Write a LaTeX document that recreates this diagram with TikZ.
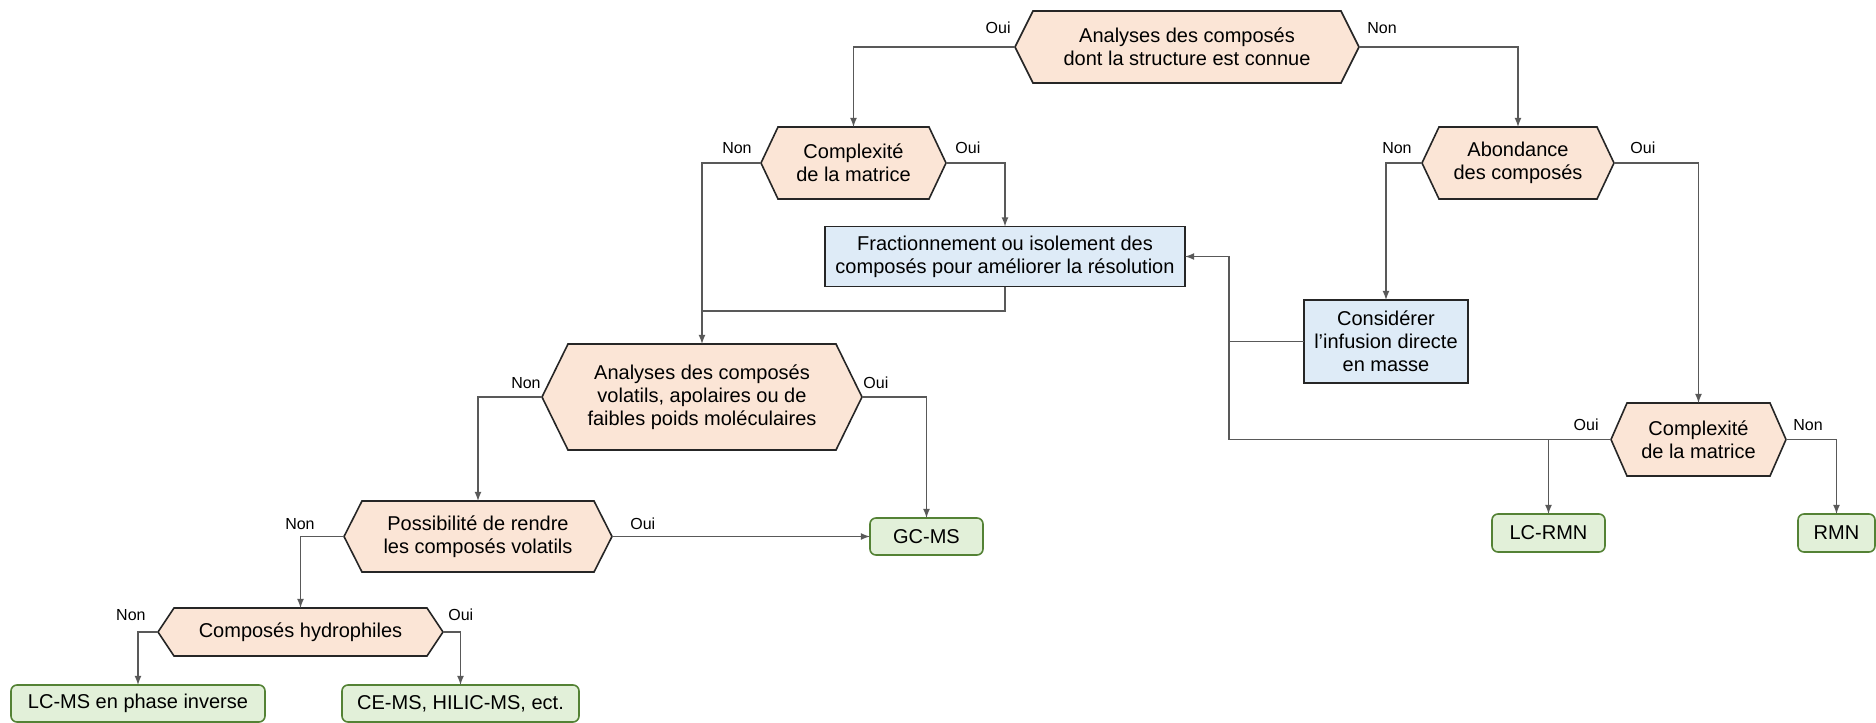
\documentclass[tikz,border=0pt]{standalone}
\usepackage{fontspec}
\setmainfont{Liberation Sans}
\usetikzlibrary{backgrounds}

\definecolor{peche}{HTML}{FBE5D6}
\definecolor{bleuclair}{HTML}{DEEBF7}
\definecolor{vertclair}{HTML}{E2F0D9}
\definecolor{vertfonce}{HTML}{548235}
\definecolor{trait}{HTML}{595959}
\definecolor{bord}{HTML}{262626}

\tikzset{
  choix/.style={draw=none, inner sep=0pt, outer sep=0pt, align=center,
    font=\fontsize{10pt}{11.6pt}\selectfont},
  etape/.style={draw=bord, fill=bleuclair, line width=0.8pt, inner sep=0pt,
    outer sep=0pt, align=center, font=\fontsize{10pt}{11.6pt}\selectfont},
  methode/.style={draw=vertfonce, fill=vertclair, line width=0.8pt,
    rounded corners=3pt, inner sep=0pt, outer sep=0pt, align=center,
    font=\fontsize{10pt}{11.6pt}\selectfont},
  hexa/.style={fill=peche, draw=bord, line width=0.8pt, line join=miter},
  lien/.style={draw=trait, line width=0.6pt, -latex},
  ligne/.style={draw=trait, line width=0.6pt},
  rep/.style={inner sep=0pt, font=\fontsize{8pt}{9pt}\selectfont}
}

\begin{document}
\begin{tikzpicture}[x=0.5pt, y=-0.5pt]
  \useasboundingbox (0,0) rectangle (1876,723);

  % questions
  \node[choix, minimum width=172pt, minimum height=36pt] (ana) at (1187,47) {Analyses des composés\\dont la structure est connue};
  \node[choix, minimum width=92.5pt, minimum height=36pt] (cpx) at (853.5,163) {Complexité\\de la matrice};
  \node[choix, minimum width=96pt, minimum height=36pt] (abond) at (1518,163) {Abondance\\des composés};
  \node[choix, minimum width=87.5pt, minimum height=36.5pt] (cpxb) at (1698.5,439.5) {Complexité\\de la matrice};
  \node[choix, minimum width=160pt, minimum height=53pt] (vola) at (702,397) {Analyses des composés\\volatils, apolaires ou de\\faibles poids moléculaires};
  \node[choix, minimum width=134pt, minimum height=35.5pt] (poss) at (478,536.5) {Possibilité de rendre\\les composés volatils};
  \node[choix, minimum width=142.5pt, minimum height=24pt] (hydro) at (300.5,632) {Composés hydrophiles};

  % etapes
  \node[etape, minimum width=180pt, minimum height=30pt] (frac) at (1005,256.5) {Fractionnement ou isolement des\\composés pour améliorer la résolution};
  \node[etape, minimum width=82pt, minimum height=41.5pt] (infus) at (1386,341.5) {Considérer\\l’infusion directe\\en masse};

  % methodes
  \node[methode, minimum width=56.5pt, minimum height=18.5pt] (gcms) at (926.5,536.5) {GC-MS};
  \node[methode, minimum width=56.5pt, minimum height=19pt] (lcrmn) at (1548.5,533) {LC-RMN};
  \node[methode, minimum width=38.5pt, minimum height=19pt] (rmn) at (1836.5,533) {RMN};
  \node[methode, minimum width=127pt, minimum height=18.5pt] (lcms) at (138,703.5) {LC-MS en phase inverse};
  \node[methode, minimum width=118.5pt, minimum height=18.5pt] (cems) at (460.5,703.5) {CE-MS, HILIC-MS, ect.};

  % hexagones
  \begin{scope}[on background layer]
    \foreach \n/\d in {ana/9, cpx/8.5, abond/8.5, cpxb/8, vola/13, poss/9, hydro/8}
      \filldraw[hexa] (\n.west) -- ([xshift=\d pt]\n.north west) -- ([xshift=-\d pt]\n.north east)
        -- (\n.east) -- ([xshift=-\d pt]\n.south east) -- ([xshift=\d pt]\n.south west) -- cycle;
  \end{scope}

  % liens
  \coordinate (merge) at (702,311);
  \coordinate (bus) at (1229,439.5);
  \draw[lien] (ana.west) -| (cpx.north);
  \draw[lien] (ana.east) -| (abond.north);
  \draw[lien] (cpx.west) -| (vola.north);
  \draw[lien] (cpx.east) -| (frac.north);
  \draw[ligne] (frac.south) |- (merge);
  \draw[lien] (abond.west) -| (infus.north);
  \draw[lien] (abond.east) -| (cpxb.north);
  \draw[lien] (cpxb.west) -- (bus) |- (frac.east);
  \draw[ligne] (infus.west) -- (infus.west -| bus);
  \draw[lien] (cpxb.west) -| (lcrmn.north);
  \draw[lien] (cpxb.east) -| (rmn.north);
  \draw[lien] (vola.west) -| (poss.north);
  \draw[lien] (vola.east) -| (gcms.north);
  \draw[lien] (poss.east) -- (gcms.west);
  \draw[lien] (poss.west) -| (hydro.north);
  \draw[lien] (hydro.west) -| (lcms.north);
  \draw[lien] (hydro.east) -| (cems.north);

  % reponses
  \node[rep, anchor=base east] (ana-oui) at ([xshift=-2pt, yshift=7pt]ana.west) {Oui};
  \node[rep, anchor=base west] (ana-non) at ([xshift=4pt, yshift=7pt]ana.east) {Non};
  \node[rep, anchor=base east] (cpx-non) at ([xshift=-4.5pt, yshift=5pt]cpx.west) {Non};
  \node[rep, anchor=base west] (cpx-oui) at ([xshift=4.5pt, yshift=5pt]cpx.east) {Oui};
  \node[rep, anchor=base east] (abond-non) at ([xshift=-5pt, yshift=5pt]abond.west) {Non};
  \node[rep, anchor=base west] (abond-oui) at ([xshift=8pt, yshift=5pt]abond.east) {Oui};
  \node[rep, anchor=base east] (cpxb-oui) at ([xshift=-6pt, yshift=4.75pt]cpxb.west) {Oui};
  \node[rep, anchor=base west] (cpxb-non) at ([xshift=3.5pt, yshift=4.75pt]cpxb.east) {Non};
  \node[rep, anchor=base east] (vola-non) at ([xshift=-0.5pt, yshift=4.5pt]vola.west) {Non};
  \node[rep, anchor=base west] (vola-oui) at ([xshift=0.5pt, yshift=4.5pt]vola.east) {Oui};
  \node[rep, anchor=base east] (poss-non) at ([xshift=-14.5pt, yshift=3.5pt]poss.west) {Non};
  \node[rep, anchor=base west] (poss-oui) at ([xshift=9pt, yshift=3.75pt]poss.east) {Oui};
  \node[rep, anchor=base east] (hydro-non) at ([xshift=-6pt, yshift=6pt]hydro.west) {Non};
  \node[rep, anchor=base west] (hydro-oui) at ([xshift=2.5pt, yshift=6pt]hydro.east) {Oui};
\end{tikzpicture}
\end{document}
